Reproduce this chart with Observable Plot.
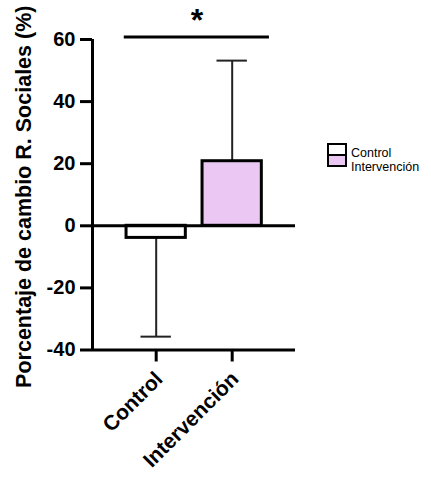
<!DOCTYPE html>
<html>
<head>
<meta charset="utf-8">
<script src="https://cdn.jsdelivr.net/npm/d3@7"></script>
<script src="https://cdn.jsdelivr.net/npm/@observablehq/plot@0.6"></script>
<style>
  body { margin: 0; background: #fff; }
  #chart { position: relative; width: 431px; height: 487px; }
  #chart svg { position: absolute; left: 0; top: 0; }
  .legend-swatch { position: absolute; box-sizing: border-box; width: 20px; height: 13px; border: 2px solid #000; }
  .legend-label { position: absolute; font: 12.5px/14px "Liberation Sans", Arial, sans-serif; color: #000; white-space: nowrap; }
</style>
</head>
<body>
<div id="chart"></div>
<script>
// Group means and standard deviations (% change)
const groups = ["Control", "Intervención"];
const means = [-3.9, 20.8];
const sds = [31.8, 32.4];
const fills = ["#ffffff", "#ebc8f3"];
const yTicks = [-40, -20, 0, 20, 40, 60];
const yLabel = "Porcentaje de cambio R. Sociales (%)";
const comparisons = [{from: "Control", to: "Intervención", label: "*", y: 60.8}];

const rows = groups.map((group, i) => ({
  group, i, mean: means[i],
  end: means[i] + Math.sign(means[i]) * sds[i]
}));
const sig = comparisons.map(c => ({...c, a: groups.indexOf(c.from), b: groups.indexOf(c.to)}));

const halfBar = 0.39, halfCap = 0.2;
const xDomain = [-0.838, 1.833];
const font = "'Liberation Sans', Arial, sans-serif";

const chart = Plot.plot({
  width: 431,
  height: 487,
  marginTop: 39,
  marginBottom: 137.5,
  marginLeft: 92,
  marginRight: 136,
  style: {fontFamily: font, fontWeight: "bold", color: "#000", background: "#fff", overflow: "visible"},
  x: {type: "linear", domain: xDomain, axis: null},
  y: {domain: [-40, 60], axis: null},
  color: {domain: groups, range: fills},
  marks: [
    // error bars (one SD away from zero)
    Plot.ruleX(rows, {x: "i", y1: "mean", y2: "end", stroke: "#222", strokeWidth: 2}),
    Plot.ruleY(rows, {y: "end", x1: d => d.i - halfCap, x2: d => d.i + halfCap, stroke: "#222", strokeWidth: 2}),
    // bars
    Plot.rect(rows, {x1: d => d.i - halfBar, x2: d => d.i + halfBar, y1: 0, y2: "mean", fill: "group", stroke: "#000", strokeWidth: 3}),
    // baseline and axis lines
    Plot.ruleY([0], {strokeWidth: 3}),
    Plot.ruleY([-40], {strokeWidth: 3}),
    Plot.ruleX([xDomain[0]], {strokeWidth: 3}),
    Plot.axisY(yTicks, {tickSize: 12, tickPadding: 5, strokeWidth: 3, fontSize: 20, fontWeight: "bold", tickFormat: d => String(d), label: null}),
    // category ticks and rotated labels
    Plot.ruleX(rows, {x: "i", y1: -40, y2: -40, insetBottom: -12, strokeWidth: 3}),
    Plot.text(rows, {x: "i", frameAnchor: "bottom", text: "group", rotate: -45, textAnchor: "end", lineAnchor: "middle", dx: 3, dy: 25.5, fontSize: 21, fontWeight: "bold"}),
    Plot.text([yLabel], {text: d => d, frameAnchor: "left", textAnchor: "middle", dx: -68, dy: 2, rotate: -90, fontSize: 21.5, fontWeight: "bold"}),
    // significance bracket
    Plot.ruleY(sig, {y: "y", x1: d => d.a - 0.42, x2: d => d.b + 0.49, strokeWidth: 3}),
    Plot.text(sig, {x: d => (d.a - 0.42 + d.b + 0.49) / 2, y: "y", text: "label", fontSize: 32, dy: -16, fontWeight: "bold"})
  ]
});

const root = document.getElementById("chart");
root.appendChild(chart);

// legend: stacked swatches with labels
groups.forEach((g, i) => {
  const sw = document.createElement("div");
  sw.className = "legend-swatch";
  sw.style.left = "327px";
  sw.style.top = (143 + i * 11) + "px";
  sw.style.background = fills[i];
  root.appendChild(sw);
  const lab = document.createElement("div");
  lab.className = "legend-label";
  lab.style.left = "351px";
  lab.style.top = (146 + i * 13.5) + "px";
  lab.textContent = g;
  root.appendChild(lab);
});
</script>
</body>
</html>
